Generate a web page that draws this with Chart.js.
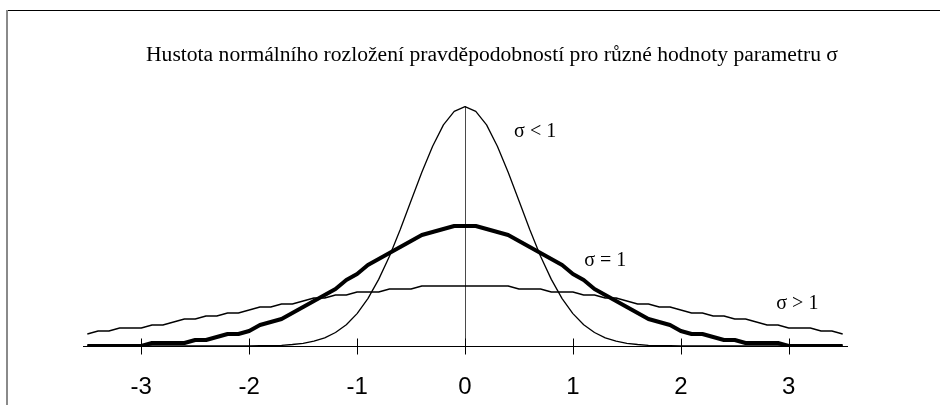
<!DOCTYPE html>
<html>
<head>
<meta charset="utf-8">
<script src="https://cdn.jsdelivr.net/npm/chart.js@4.4.1/dist/chart.umd.min.js"></script>
<style>
  html, body { margin: 0; padding: 0; background: #fff; }
  canvas { display: block; }
</style>
</head>
<body>
<canvas id="c" width="940" height="405"></canvas>
<script>
// x positions of the sampled densities
const xValues = [
  -3.5, -3.4, -3.3, -3.2, -3.1, -3.0, -2.9, -2.8, -2.7, -2.6,
  -2.5, -2.4, -2.3, -2.2, -2.1, -2.0, -1.9, -1.8, -1.7, -1.6,
  -1.5, -1.4, -1.3, -1.2, -1.1, -1.0, -0.9, -0.8, -0.7, -0.6,
  -0.5, -0.4, -0.3, -0.2, -0.1, 0.0, 0.1, 0.2, 0.3, 0.4,
  0.5, 0.6, 0.7, 0.8, 0.9, 1.0, 1.1, 1.2, 1.3, 1.4,
  1.5, 1.6, 1.7, 1.8, 1.9, 2.0, 2.1, 2.2, 2.3, 2.4,
  2.5, 2.6, 2.7, 2.8, 2.9, 3.0, 3.1, 3.2, 3.3, 3.4, 3.5
];

// density for sigma < 1 (narrow, tall peak)
const sigmaSmall = [
  0, 0, 0, 0, 0, 0, 0, 0, 0, 0,
  0, 0, 0, 0, 0, 0, 0.001, 0.001, 0.002, 0.005,
  0.009, 0.016, 0.027, 0.045, 0.071, 0.108, 0.158, 0.222, 0.299, 0.388,
  0.484, 0.579, 0.666, 0.737, 0.782, 0.798, 0.782, 0.737, 0.666, 0.579,
  0.484, 0.388, 0.299, 0.222, 0.158, 0.108, 0.071, 0.045, 0.027, 0.016,
  0.009, 0.005, 0.002, 0.001, 0.001, 0, 0, 0, 0, 0,
  0, 0, 0, 0, 0, 0, 0, 0, 0, 0, 0
];

// density for sigma = 1
const sigmaOne = [
  0.00, 0.00, 0.00, 0.00, 0.00, 0.00, 0.01, 0.01, 0.01, 0.01,
  0.02, 0.02, 0.03, 0.04, 0.04, 0.05, 0.07, 0.08, 0.09, 0.11,
  0.13, 0.15, 0.17, 0.19, 0.22, 0.24, 0.27, 0.29, 0.31, 0.33,
  0.35, 0.37, 0.38, 0.39, 0.40, 0.40, 0.40, 0.39, 0.38, 0.37,
  0.35, 0.33, 0.31, 0.29, 0.27, 0.24, 0.22, 0.19, 0.17, 0.15,
  0.13, 0.11, 0.09, 0.08, 0.07, 0.05, 0.04, 0.04, 0.03, 0.02,
  0.02, 0.01, 0.01, 0.01, 0.01, 0.00, 0.00, 0.00, 0.00, 0.00, 0.00
];

// density for sigma > 1 (wide, flat)
const sigmaLarge = [
  0.04, 0.05, 0.05, 0.06, 0.06, 0.06, 0.07, 0.07, 0.08, 0.09,
  0.09, 0.10, 0.10, 0.11, 0.11, 0.12, 0.13, 0.13, 0.14, 0.14,
  0.15, 0.16, 0.16, 0.17, 0.17, 0.18, 0.18, 0.18, 0.19, 0.19,
  0.19, 0.20, 0.20, 0.20, 0.20, 0.20, 0.20, 0.20, 0.20, 0.20,
  0.19, 0.19, 0.19, 0.18, 0.18, 0.18, 0.17, 0.17, 0.16, 0.16,
  0.15, 0.14, 0.14, 0.13, 0.13, 0.12, 0.11, 0.11, 0.10, 0.10,
  0.09, 0.09, 0.08, 0.07, 0.07, 0.06, 0.06, 0.06, 0.05, 0.05, 0.04
];

const tickValues = [-3, -2, -1, 0, 1, 2, 3];

const titleText = 'Hustota normálního rozložení pravděpodobností pro různé hodnoty parametru σ';
const curveLabels = ['σ < 1', 'σ = 1', 'σ > 1'];

const toPoints = ys => xValues.map((x, i) => ({ x: x, y: ys[i] }));

// frame, title, crossing tick marks and curve captions
const decorations = {
  id: 'decorations',
  beforeDraw(chart) {
    const ctx = chart.ctx;
    ctx.save();
    ctx.fillStyle = '#fff';
    ctx.fillRect(0, 0, chart.width, chart.height);
    ctx.strokeStyle = '#000';
    ctx.lineWidth = 1;
    ctx.beginPath();
    ctx.moveTo(6, 10.5);
    ctx.lineTo(chart.width, 10.5);
    ctx.stroke();
    ctx.strokeStyle = '#8a8a8a';
    ctx.lineWidth = 2;
    ctx.beginPath();
    ctx.moveTo(7, 10);
    ctx.lineTo(7, chart.height);
    ctx.stroke();
    ctx.restore();
  },
  afterDatasetsDraw(chart) {
    const ctx = chart.ctx;
    const xs = chart.scales.x, ys = chart.scales.y;
    const y0 = Math.round(ys.getPixelForValue(0)) + 0.5;
    ctx.save();
    // tick marks crossing the horizontal axis
    ctx.strokeStyle = '#000';
    ctx.lineWidth = 1;
    xs.ticks.forEach(t => {
      const px = Math.round(xs.getPixelForValue(t.value)) + 0.5;
      ctx.beginPath();
      ctx.moveTo(px, y0 - 8);
      ctx.lineTo(px, y0 + 8);
      ctx.stroke();
    });
    // title, set in a narrow serif face
    ctx.fillStyle = '#000';
    ctx.font = '20px "Liberation Serif", "Times New Roman", serif';
    ctx.textBaseline = 'alphabetic';
    ctx.textAlign = 'left';
    const w = ctx.measureText(titleText).width;
    const targetW = 692;
    ctx.save();
    ctx.translate(146, 61);
    ctx.scale(targetW / w, 1);
    ctx.fillText(titleText, 0, 0);
    ctx.restore();
    // captions next to each curve
    const anchors = [[0.455, 0.697], [1.105, 0.267], [2.885, 0.124]];
    ctx.font = '20px "Liberation Serif", "Times New Roman", serif';
    curveLabels.forEach((txt, i) => {
      ctx.fillText(txt, xs.getPixelForValue(anchors[i][0]), ys.getPixelForValue(anchors[i][1]));
    });
    ctx.restore();
  }
};

new Chart(document.getElementById('c'), {
  type: 'line',
  data: {
    datasets: [
      { data: toPoints(sigmaSmall), borderColor: '#000', borderWidth: 1.3 },
      { data: toPoints(sigmaOne), borderColor: '#000', borderWidth: 4 },
      { data: toPoints(sigmaLarge), borderColor: '#000', borderWidth: 1.3 }
    ]
  },
  options: {
    responsive: false,
    devicePixelRatio: 1,
    animation: false,
    events: [],
    elements: {
      point: { radius: 0 },
      line: { tension: 0, borderJoinStyle: 'round', borderCapStyle: 'butt' }
    },
    layout: { padding: { left: 83, right: 93, top: 106, bottom: 0 } },
    plugins: { legend: { display: false }, tooltip: { enabled: false }, title: { display: false } },
    scales: {
      x: {
        type: 'linear',
        min: -3.54,
        max: 3.54,
        afterBuildTicks: axis => { axis.ticks = tickValues.map(v => ({ value: v })); },
        afterFit: axis => { axis.height = 59; },
        border: { display: true, color: '#000', width: 1 },
        grid: {
          drawOnChartArea: true,
          drawTicks: false,
          lineWidth: 1,
          color: c => (c.tick && c.tick.value === 0 ? '#4a4a4a' : 'rgba(0,0,0,0)')
        },
        ticks: {
          padding: 27,
          color: '#000',
          font: { family: '"Liberation Sans", Arial, sans-serif', size: 24 },
          callback: v => String(v)
        }
      },
      y: {
        display: false,
        min: 0,
        max: 0.8
      }
    }
  },
  plugins: [decorations]
});
</script>
</body>
</html>
